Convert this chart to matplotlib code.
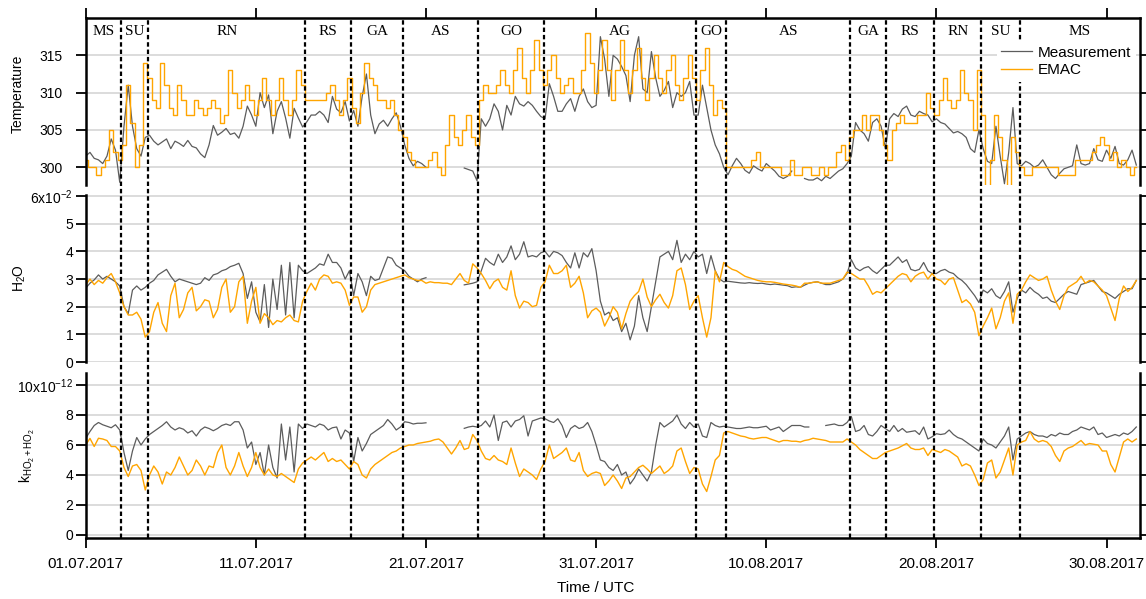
import numpy as np
import pandas as pd
import matplotlib
matplotlib.use('Agg')
import matplotlib.pyplot as plt
import matplotlib.dates as mdates
import matplotlib.transforms as mtransforms

nan = np.nan

# 6-hourly values, one row per day starting 01.07.2017 00 UTC
temp_meas = [
    301.5, 302.0, 301.2, 301.0,
    300.5, 301.5, 303.8, 302.3,
    298.0, 305.5, 311.0, 305.5,
    302.5, 301.5, 304.0, 304.3,
    303.5, 303.0, 303.4, 303.8,
    302.5, 303.5, 303.2, 302.8,
    303.6, 302.8, 302.6, 301.8,
    301.3, 303.0, 305.6, 304.3,
    304.7, 305.2, 304.4, 304.6,
    303.9, 305.5, 308.2, 307.0,
    305.5, 310.0, 308.0, 309.7,
    304.5, 307.5, 308.8, 306.6,
    303.9, 307.9, 306.6, 305.4,
    306.1, 307.0, 307.0, 307.5,
    307.0, 306.0, 309.5, 307.8,
    307.3, 308.8, 306.2, 307.6,
    305.5, 309.5, 312.5, 307.0,
    304.5, 305.8, 306.3, 305.5,
    306.5, 307.3, 305.5, 303.0,
    301.2, 300.2, 300.8, 300.5,
    300.0, nan, nan, nan,
    nan, nan, nan, nan,
    nan, 299.9, 299.7, 299.5,
    298.2, 306.5, 305.5, 306.5,
    308.5, 307.5, 305.0, 308.3,
    307.0, 309.5, 308.5, 308.2,
    308.8, 308.3, 307.5, 306.8,
    306.5, 311.2, 309.5, 307.5,
    307.5, 308.5, 309.2, 307.5,
    309.5, 310.5, 308.8, 308.0,
    308.3, 317.5, 314.5, 309.5,
    315.0, 314.5, 313.5, 312.3,
    308.8, 315.0, 317.5, 310.5,
    310.0, 315.5, 312.0, 309.5,
    310.3, 311.5, 308.0, 310.0,
    309.5, 310.0, 311.5, 307.0,
    307.0, 311.0, 308.0, 305.0,
    303.0, 301.8, 300.0, 299.0,
    300.2, 301.2, 300.5, 299.6,
    299.2, 300.2, 299.8, 299.5,
    300.5, 300.0, 299.5, 298.8,
    298.5, 298.8, 299.5, nan,
    nan, 298.5, 298.3, 298.3,
    298.6, 298.2, 298.8, 298.5,
    299.0, 299.5, 299.8, 300.5,
    301.5, 306.0, 305.0, 304.5,
    303.5, 306.0, 306.5, 305.5,
    302.5, 306.5, 307.2, 306.8,
    307.8, 308.2, 307.0, 306.8,
    307.5, 307.2, 307.0, 306.1,
    306.5, 306.0, 305.8, 305.2,
    304.6, 304.8, 304.5, 304.0,
    302.5, 302.0, 305.0, 302.5,
    300.8, 300.5, 305.5, 301.5,
    297.8, 302.0, 308.0, 300.5,
    300.2, 300.8, 300.5, 300.0,
    300.3, 301.0, 300.0, 299.0,
    298.5, 299.2, 299.8, 300.0,
    300.2, 303.0, 300.5, 300.3,
    300.5, 302.5, 301.0, 300.8,
    302.3, 301.2, 302.8, 300.5,
    300.3, 301.0, 302.3, 300.3,
]

temp_emac = [
    301, 300, 300, 299,
    300, 301, 305, 302,
    301, 303, 311, 306,
    300, 303, 314, 312,
    309, 308, 314, 311,
    308, 307, 311, 309,
    307, 307, 309, 308,
    307, 308, 309, 308,
    306, 307, 313, 310,
    308, 309, 311, 309,
    307, 309, 312, 309,
    307, 309, 312, 309,
    307, 309, 313, 311,
    309, 309, 309, 309,
    309, 310, 311, 309,
    307, 309, 312, 308,
    306, 310, 314, 312,
    311, 309, 309, 308,
    309, 307, 305, 304,
    302, 301, 300, 300,
    300, 301, 302, 300,
    299, 303, 307, 304,
    303, 305, 307, 304,
    303, 309, 311, 310,
    310, 311, 313, 311,
    310, 313, 316, 312,
    310, 313, 317, 313,
    311, 313, 315, 312,
    310, 311, 312, 310,
    310, 313, 318, 314,
    310, 313, 317, 313,
    309, 313, 317, 313,
    310, 313, 316, 312,
    309, 312, 315, 312,
    310, 313, 315, 311,
    309, 312, 315, 312,
    309, 313, 316, 311,
    307, 309, 308, 300,
    300, 300, 300, 300,
    300, 301, 302, 300,
    300, 300, 300, 300,
    299, 299, 301, 299,
    299, 300, 300, 299,
    299, 300, 299, 300,
    300, 302, 303, 301,
    304, 305, 305, 307,
    305, 307, 307, 305,
    303, 301, 305, 306,
    307, 306, 306, 306,
    307, 307, 310, 308,
    307, 309, 312, 309,
    308, 309, 313, 310,
    309, 305, 313, 307,
    297, 301, 307, 304,
    301, 297, 304, 302,
    300, 299, 299, 300,
    300, 300, 300, 300,
    300, 299, 299, 299,
    299, 301, 301, 301,
    301, 302, 303, 304,
    303, 301, 302, 300,
    301, 300, 299, 300,
]

# H2O in units of 1e-2
h2o_meas = [
    2.67, 2.85, 2.97, 3.15,
    3.0, 3.1, 3.0, 2.9,
    2.75, 2.0, 1.75, 2.6,
    2.75, 2.6, 2.7, 2.85,
    2.95, 3.15, 3.25, 3.35,
    3.1, 2.9, 3.0, 2.95,
    2.9, 2.85, 2.8, 2.85,
    3.05, 2.95, 3.15, 3.2,
    3.3, 3.35, 3.45, 3.5,
    3.57, 3.2, 2.3, 2.9,
    1.8, 1.45, 2.8, 1.25,
    3.0, 1.9, 3.5, 1.7,
    3.6, 1.6, 3.5, 3.3,
    3.2, 3.3, 3.4, 3.55,
    3.5, 3.9, 3.6, 3.6,
    3.4, 3.0, 3.3, 2.4,
    3.2, 2.9, 2.4, 3.1,
    2.95, 3.0, 3.4, 3.8,
    3.75, 3.5, 3.4, 3.3,
    3.1, 3.0, 2.9, 3.0,
    3.05, nan, nan, nan,
    nan, nan, nan, nan,
    nan, 2.79, 2.82, 2.85,
    2.9, 3.3, 3.75, 3.6,
    3.5, 3.9, 3.6, 3.8,
    4.2, 3.7, 3.9, 4.35,
    3.8, 3.85, 3.8, 3.95,
    4.0, 3.8, 4.0, 3.95,
    3.85, 3.6, 3.4, 3.95,
    3.4, 3.95, 3.8, 4.1,
    3.3, 2.2, 1.7, 1.8,
    1.5, 1.6, 1.1, 1.4,
    0.8, 1.3, 2.4, 1.6,
    1.1, 2.0, 2.9, 3.8,
    3.9, 4.0, 3.7, 4.4,
    3.6, 3.9, 3.7, 4.0,
    3.8, 3.9, 3.2, 3.85,
    3.3, 3.0, 2.9, 2.92,
    2.9, 2.88, 2.86, 2.85,
    2.87, 2.85, 2.84, 2.85,
    2.82, 2.8, 2.82, 2.8,
    2.78, 2.76, 2.7, 2.72,
    2.7, 2.78, 2.85, 2.88,
    2.9, 2.85, 2.8, 2.8,
    2.85, 2.9, 3.0, 3.2,
    3.7, 3.4, 3.3, 3.4,
    3.45, 3.3, 3.2, 3.35,
    3.5, 3.5, 3.65, 3.8,
    3.6, 3.7, 3.35, 3.3,
    3.35, 3.6, 3.3, 3.2,
    3.2, 3.3, 3.35, 3.25,
    3.2, 3.05, 2.95, 2.8,
    2.6, 2.4, 2.15, 2.6,
    2.5, 2.65, 2.4, 2.3,
    2.55, 2.9, 1.8, 2.3,
    2.6, 2.5, 2.7, 2.55,
    2.45, 2.3, 2.35, 2.2,
    2.15, 2.3, 2.45, 2.55,
    2.5, 2.45, 2.8, 2.85,
    2.9, 2.95, 2.75, 2.55,
    2.5, 2.4, 2.3, 2.45,
    2.55, 2.65, 2.65, 2.95,
]

h2o_emac = [
    2.79, 3.0, 2.8, 2.95,
    2.85, 3.05, 3.2, 2.9,
    2.5, 2.0, 1.7, 1.7,
    1.8, 1.55, 0.9, 1.1,
    1.8, 2.15, 1.4, 1.1,
    2.4, 2.85, 1.6, 1.9,
    2.5, 2.7, 1.85, 2.0,
    2.25, 2.2, 1.6, 1.9,
    2.7, 3.0, 1.8, 2.0,
    2.9, 3.1, 1.4, 2.2,
    2.7, 1.4, 1.75, 1.6,
    1.35, 1.5, 1.45, 1.6,
    1.7, 1.5, 1.45, 2.2,
    2.55, 2.85, 2.6, 3.0,
    3.15, 3.1, 2.85, 2.9,
    2.85, 2.6, 2.05, 2.35,
    2.35, 1.8, 2.0, 2.6,
    2.8, 2.85, 2.9, 2.95,
    3.0, 3.05, 3.1, 3.15,
    3.05, 3.0, 2.95, 2.95,
    2.85, 2.9, 2.87, 2.87,
    2.85, 2.85, 2.8, 3.0,
    3.2, 2.95, 2.85, 3.55,
    3.4, 3.2, 2.95, 2.65,
    2.9, 3.0, 2.7, 2.6,
    3.3, 2.4, 1.95, 2.2,
    2.15, 2.0, 2.05, 2.7,
    2.9, 3.5, 3.2, 3.2,
    3.3, 3.5, 2.7, 2.85,
    3.1, 2.5, 1.6, 1.85,
    1.95, 1.8, 1.3, 1.6,
    2.0, 1.8, 1.2, 1.75,
    2.2, 2.4, 2.55, 3.0,
    2.35, 2.0, 2.25, 2.45,
    2.15, 1.95, 2.4, 3.3,
    3.4, 2.8, 1.9, 2.2,
    2.4, 1.6, 0.9, 1.6,
    3.3, 2.9, 3.6, 3.45,
    3.35, 3.3, 3.2, 3.1,
    3.05, 3.0, 2.95, 2.92,
    2.9, 2.9, 2.88, 2.85,
    2.82, 2.8, 2.78, 2.75,
    2.7, 2.85, 2.85, 2.88,
    2.9, 2.85, 2.85, 2.85,
    2.9, 2.95, 3.0, 3.25,
    3.2, 3.1, 3.0, 3.0,
    2.75, 2.45, 2.55, 2.5,
    2.65, 2.8, 2.95, 3.1,
    3.2, 3.15, 2.9, 3.1,
    3.2, 3.25, 3.0, 3.2,
    3.0, 2.95, 2.8, 3.0,
    3.05, 2.6, 2.15, 2.25,
    2.1, 1.8, 0.95, 1.3,
    1.6, 1.95, 1.2, 1.6,
    2.2, 2.5, 1.4, 2.45,
    2.6, 2.9, 3.15, 3.05,
    2.95, 3.0, 3.1, 2.6,
    2.2, 1.9, 2.4, 2.7,
    2.8, 2.9, 3.1, 2.85,
    2.95, 2.9, 2.75, 2.6,
    2.4, 1.95, 1.5, 2.3,
    2.75, 2.55, 2.7, 2.95,
]

# k(HO2+HO2) in units of 1e-12
k_meas = [
    6.44, 6.9, 7.3, 7.5,
    7.35, 7.25, 7.15, 7.35,
    7.0, 5.5, 4.3, 5.6,
    6.5, 6.0, 6.4, 6.7,
    6.9, 7.1, 7.3, 7.55,
    7.2, 7.0, 7.15, 7.05,
    6.8, 6.95, 6.6, 7.0,
    7.2, 7.1, 6.95, 7.1,
    7.3, 7.4, 7.3, 7.55,
    7.55, 7.0, 5.8, 6.2,
    4.7, 5.5, 4.0, 6.0,
    4.5, 3.8, 7.4, 5.0,
    7.2, 4.2, 7.4, 7.1,
    7.4, 7.3, 7.2, 7.4,
    7.3, 7.0, 7.15, 7.2,
    6.4, 7.0, 6.8, 4.9,
    6.5, 5.6, 6.1, 6.7,
    6.9, 7.1, 7.3, 7.7,
    7.4, 7.0, 7.2, 7.55,
    7.5, 7.4, 7.45, 7.45,
    7.48, nan, nan, nan,
    nan, nan, nan, nan,
    nan, 7.11, 7.2, 7.25,
    7.2, 7.3, 7.6, 7.2,
    8.0, 6.3, 7.5, 7.6,
    7.2, 7.6, 7.7, 7.95,
    6.6, 7.6, 7.7, 7.8,
    7.75, 7.6, 7.5, 7.75,
    7.3, 6.5, 7.1, 7.3,
    7.1, 7.2, 7.5, 6.9,
    6.0, 5.0, 4.9, 4.5,
    4.3, 4.7, 4.0, 4.2,
    3.4, 3.8, 4.4, 4.0,
    3.6, 4.2, 6.0, 7.5,
    7.2, 7.4, 7.6, 8.0,
    7.4, 7.1, 7.5, 7.2,
    7.4, 6.6, 6.5, 7.5,
    7.3, 7.2, 7.25, 7.2,
    7.15, 7.1, 7.1, 7.15,
    7.2, 7.15, 7.15, 7.2,
    7.25, 7.0, 7.1, 7.2,
    6.9, 7.1, 7.3, 7.3,
    7.3, 7.2, 7.2, nan,
    nan, nan, 7.3, 7.35,
    7.4, 7.3, 7.3, 7.5,
    7.9, 6.9, 7.0, 7.3,
    6.7, 6.6, 6.9, 7.3,
    7.1, 6.9, 7.3, 6.9,
    7.1, 6.85, 6.9, 6.95,
    6.7, 7.2, 6.4, 6.55,
    6.75, 6.7, 6.75, 7.0,
    6.7, 6.5, 6.4, 6.2,
    6.0, 5.8, 5.6, 6.4,
    6.1, 6.0, 5.8, 6.2,
    6.6, 7.2, 5.0, 6.4,
    6.6, 6.8, 6.9, 6.7,
    6.6, 6.6, 6.5, 6.7,
    6.6, 6.8, 6.7, 6.7,
    6.9, 7.0, 7.2, 7.1,
    7.0, 7.2, 6.7, 6.8,
    6.5, 6.6, 6.7, 6.6,
    6.8, 6.7, 6.9, 7.2,
]

k_emac = [
    6.0, 6.44, 5.9, 6.45,
    6.4, 6.3, 5.9, 5.9,
    5.6, 4.5, 3.9, 4.6,
    4.7, 4.3, 3.0, 4.0,
    4.6, 4.2, 3.4, 4.2,
    4.0, 4.5, 5.2, 4.6,
    4.0, 4.3, 5.0, 4.6,
    4.0, 4.6, 4.5, 5.5,
    6.0, 4.5, 4.0, 4.6,
    5.5, 4.6, 3.9, 4.5,
    5.5, 4.5, 4.0, 4.4,
    4.0, 3.9, 4.1, 3.9,
    3.7, 3.5, 4.4, 4.8,
    5.0, 5.2, 5.0, 5.25,
    5.5, 4.9, 5.1, 4.9,
    5.0, 4.7, 4.4, 4.9,
    4.7, 4.0, 3.8, 4.4,
    4.7, 4.9, 5.1, 5.3,
    5.5, 5.6, 5.8, 5.9,
    6.0, 6.0, 6.1, 6.15,
    6.2, 6.25, 6.35, 6.4,
    6.2, 5.8, 5.4, 5.8,
    6.3, 5.7, 5.8, 6.7,
    6.3, 5.6, 5.1, 5.0,
    5.3, 5.0, 4.9, 4.7,
    5.8, 4.8, 3.9, 4.4,
    4.2, 4.0, 3.7, 4.4,
    4.9, 6.0, 5.1, 5.3,
    5.5, 5.8, 5.0, 4.9,
    5.5, 4.3, 3.9, 4.1,
    4.2, 4.1, 3.3, 3.6,
    4.0, 3.6, 3.1, 3.8,
    3.9, 4.2, 4.5, 4.65,
    4.4, 4.1, 4.35, 4.6,
    4.1, 4.3, 4.6, 5.6,
    5.8, 4.9, 4.1, 4.5,
    4.4, 3.4, 2.9, 3.9,
    5.0, 5.3, 6.8, 6.9,
    6.8, 6.7, 6.6, 6.55,
    6.45, 6.4, 6.45, 6.5,
    6.5, 6.4, 6.3, 6.2,
    6.3, 6.3, 6.25, 6.25,
    6.2, 6.3, 6.35, 6.45,
    6.4, 6.35, 6.3, 6.2,
    6.2, 6.2, 6.2, 6.4,
    6.2, 6.0, 5.7, 5.5,
    5.3, 5.1, 5.1, 5.3,
    5.5, 5.6, 5.7, 5.8,
    5.95, 6.1, 5.8, 5.7,
    5.7, 5.8, 5.3, 5.7,
    5.6, 5.5, 5.7, 5.6,
    5.4, 5.2, 4.6, 4.75,
    4.6, 4.0, 3.3, 3.7,
    4.8, 5.0, 3.8, 4.2,
    5.0, 5.8, 4.0, 6.0,
    6.2, 6.3, 6.9, 6.4,
    6.2, 6.3, 6.2, 5.9,
    5.3, 4.9, 5.6, 5.8,
    5.9, 6.1, 6.3, 6.0,
    6.1, 6.05, 6.0, 5.6,
    5.6, 4.7, 4.2, 5.2,
    6.2, 6.4, 6.2, 6.4,
]

# regime boundaries and names
bounds = ['2017-07-03 01:30', '2017-07-04 16:20', '2017-07-13 21:50', '2017-07-16 14:40',
          '2017-07-19 16:05', '2017-07-24 01:10', '2017-07-27 23:00', '2017-08-05 20:40',
          '2017-08-07 15:20', '2017-08-14 22:20', '2017-08-17 00:45', '2017-08-19 20:55',
          '2017-08-22 15:35', '2017-08-24 21:50']
regions = ['MS', 'SU', 'RN', 'RS', 'GA', 'AS', 'GO', 'AG', 'GO', 'AS', 'GA', 'RS', 'RN', 'SU', 'MS']

tick_dates = ['2017-07-01', '2017-07-11', '2017-07-21', '2017-07-31',
              '2017-08-10', '2017-08-20', '2017-08-30']
t_start = pd.Timestamp('2017-07-01 00:00')
t_end = pd.Timestamp('2017-08-31 22:30')

for s in (temp_meas, temp_emac, h2o_meas, h2o_emac, k_meas, k_emac):
    assert len(s) == 248, len(s)

times = pd.date_range(t_start, periods=len(temp_meas), freq='6h')

plt.rcParams['font.family'] = ['Liberation Sans', 'DejaVu Sans']
plt.rcParams['mathtext.fontset'] = 'custom'
plt.rcParams['mathtext.rm'] = 'Liberation Sans'
plt.rcParams['mathtext.it'] = 'Liberation Sans:italic'
plt.rcParams['mathtext.bf'] = 'Liberation Sans:bold'
plt.rcParams['mathtext.default'] = 'regular'

GREY = '#5c5c5c'
ORANGE = '#ffa500'
W, H = 1146, 599
X0, X1 = 85.7, 1139.5


def box(top, bottom):
    return [X0 / W, 1 - bottom / H, (X1 - X0) / W, (bottom - top) / H]


fig = plt.figure(figsize=(W / 100, H / 100), dpi=100)
ax_t = fig.add_axes(box(18, 185))
ax_h = fig.add_axes(box(195, 362))
ax_k = fig.add_axes(box(373, 538))
axes = [ax_t, ax_h, ax_k]

l1, = ax_t.plot(times, temp_meas, color=GREY, lw=0.9)
l2, = ax_t.plot(times, temp_emac, color=ORANGE, lw=1.0, drawstyle='steps-mid')
ax_h.plot(times, h2o_meas, color=GREY, lw=0.9)
ax_h.plot(times, h2o_emac, color=ORANGE, lw=1.0)
ax_k.plot(times, k_meas, color=GREY, lw=0.9)
ax_k.plot(times, k_emac, color=ORANGE, lw=1.0)

ax_t.set_ylim(297.63, 320)
ax_t.set_yticks([300, 305, 310, 315])
ax_h.set_ylim(0, 6.04)
ax_h.set_yticks(range(7))
ax_h.set_yticklabels(['0', '1', '2', '3', '4', '5', '6x10$^{-2}$'])
ax_k.set_ylim(-0.2, 10.8)
ax_k.set_yticks([0, 2, 4, 6, 8, 10])
ax_k.set_yticklabels(['0', '2', '4', '6', '8', '10x10$^{-12}$'])

ticks = [pd.Timestamp(d) for d in tick_dates]
for ax in axes:
    ax.set_xlim(t_start, t_end)
    ax.set_xticks(ticks)
    ax.grid(axis='y', color='#d9d9d9', lw=1.3)
    ax.set_axisbelow(True)
    ax.tick_params(axis='y', direction='out', length=7.5, width=1.3,
                   left=True, right=True, labelsize=10, pad=1.5)
    for sp in ax.spines.values():
        sp.set_linewidth(1.8)
ax_t.tick_params(axis='y', pad=9)

ax_t.spines['bottom'].set_visible(False)
ax_h.spines['top'].set_visible(False)
ax_h.spines['bottom'].set_visible(False)
ax_k.spines['top'].set_visible(False)
ax_t.tick_params(axis='x', top=True, bottom=False, labeltop=False, labelbottom=False,
                 length=7.5, width=1.3)
ax_h.tick_params(axis='x', top=False, bottom=False, labelbottom=False)
ax_k.tick_params(axis='x', top=False, bottom=True, length=7.5, width=1.3,
                 labelsize=11, pad=6)
ax_k.xaxis.set_major_formatter(mdates.DateFormatter('%d.%m.%Y'))

# dashed regime lines through all three panels
ov = fig.add_axes(box(18, 538))
ov.set_zorder(1)
ov.set_xlim(t_start, t_end)
ov.set_ylim(0, 1)
ov.axis('off')
bound_ts = [pd.Timestamp(b) for b in bounds]
for b in bound_ts:
    ov.axvline(b, color='black', lw=1.6, ls=(0, (2, 1.3)))

edges = [t_start] + bound_ts + [t_end]
trans = mtransforms.blended_transform_factory(ax_t.transData, ax_t.transAxes)
for name, a, b in zip(regions, edges[:-1], edges[1:]):
    ax_t.text(a + (b - a) / 2, 0.922, name, transform=trans, ha='center', va='center',
              fontsize=11, family=['Liberation Serif', 'DejaVu Serif'])

fig.legend([l1, l2], ['Measurement', 'EMAC'], loc='upper right',
           bbox_to_anchor=(1136 / W, 1 - 41 / H), borderaxespad=0, frameon=True,
           facecolor='white', framealpha=1, edgecolor='none', fancybox=False,
           fontsize=11, handlelength=2.0, handletextpad=0.4, borderpad=0.3,
           labelspacing=0.25)

fig.text(18 / W, 1 - 94 / H, 'Temperature', rotation=90, ha='center', va='center', fontsize=10)
fig.text(20 / W, 1 - 278 / H, 'H$_2$O', rotation=90, ha='center', va='center', fontsize=10)
fig.text(27 / W, 1 - 456 / H, 'k$_{HO_2 + HO_2}$', rotation=90, ha='center', va='center',
         fontsize=10)
fig.text(596 / W, 1 - 588 / H, 'Time / UTC', ha='center', va='center', fontsize=11)

fig.savefig('out.png', dpi=100)
